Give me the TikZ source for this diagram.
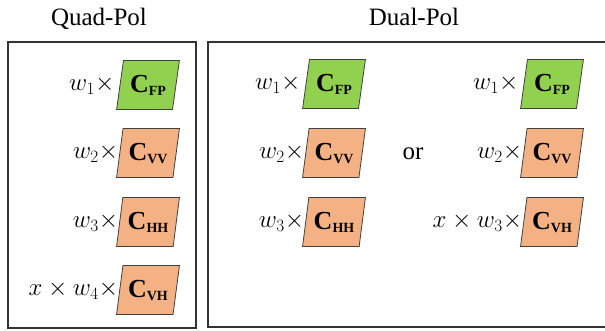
\documentclass[tikz,border=0pt]{standalone}
\usepackage{fontspec}
\setmainfont{Liberation Serif}
\usetikzlibrary{shapes.geometric,positioning}
\definecolor{fpgreen}{HTML}{92D050}
\definecolor{polorange}{HTML}{F4B183}
\definecolor{edge}{HTML}{404040}
\definecolor{frame}{HTML}{333333}
\tikzset{
  para/.style={trapezium, trapezium left angle=76, trapezium right angle=104,
    trapezium stretches=true, minimum width=63pt, minimum height=49pt,
    draw=edge, line width=0.8pt, inner sep=0pt,
    font=\fontsize{26}{26}\selectfont\bfseries},
  fp/.style={para, fill=fpgreen},
  pol/.style={para, fill=polorange},
  wlab/.style={inner sep=0pt, font=\fontsize{27}{30}\selectfont},
  title/.style={inner sep=0pt, font=\fontsize{25}{28}\selectfont},
  framebox/.style={draw=frame, line width=1.5pt}
}
\newcommand{\cmat}[1]{C\raisebox{-3pt}{\fontsize{14}{14}\selectfont #1}}
\begin{document}
\begin{tikzpicture}[x=1pt,y=-1pt]
\useasboundingbox (0,0) rectangle (605,330);
% titles
\node[title] (tq) at (99,19) {Quad-Pol};
\node[title] (td) at (414,17) {Dual-Pol};
% frames
\draw[framebox] (8,42) rectangle (196,328);
\draw[framebox] (208,42) rectangle (610,327);
% Quad-Pol column
\node[fp]  (q1) at (148,85)  {\cmat{FP}};
\node[pol] (q2) at (148,153) {\cmat{VV}};
\node[pol] (q3) at (148,222) {\cmat{HH}};
\node[pol] (q4) at (148,290) {\cmat{VH}};
\node[wlab, left=5pt of q1] (lq1) {$w_1\times$};
\node[wlab, left=1pt of q2] (lq2) {$w_2\times$};
\node[wlab, left=1pt of q3] (lq3) {$w_3\times$};
\node[wlab, left=1pt of q4] (lq4) {$x\times w_4\times$};
% Dual-Pol first column
\node[fp]  (a1) at (334,84)  {\cmat{FP}};
\node[pol] (a2) at (334,153) {\cmat{VV}};
\node[pol] (a3) at (334,222) {\cmat{HH}};
\node[wlab, left=5pt of a1] (la1) {$w_1\times$};
\node[wlab, left=1pt of a2] (la2) {$w_2\times$};
\node[wlab, left=1pt of a3] (la3) {$w_3\times$};
% or
\node[title] (or) at (413,154) {or};
% Dual-Pol second column
\node[fp]  (b1) at (552,84)  {\cmat{FP}};
\node[pol] (b2) at (552,153) {\cmat{VV}};
\node[pol] (b3) at (552,222) {\cmat{VH}};
\node[wlab, left=5pt of b1] (lb1) {$w_1\times$};
\node[wlab, left=1pt of b2] (lb2) {$w_2\times$};
\node[wlab, left=1pt of b3] (lb3) {$x\times w_3\times$};
\end{tikzpicture}
\end{document}
